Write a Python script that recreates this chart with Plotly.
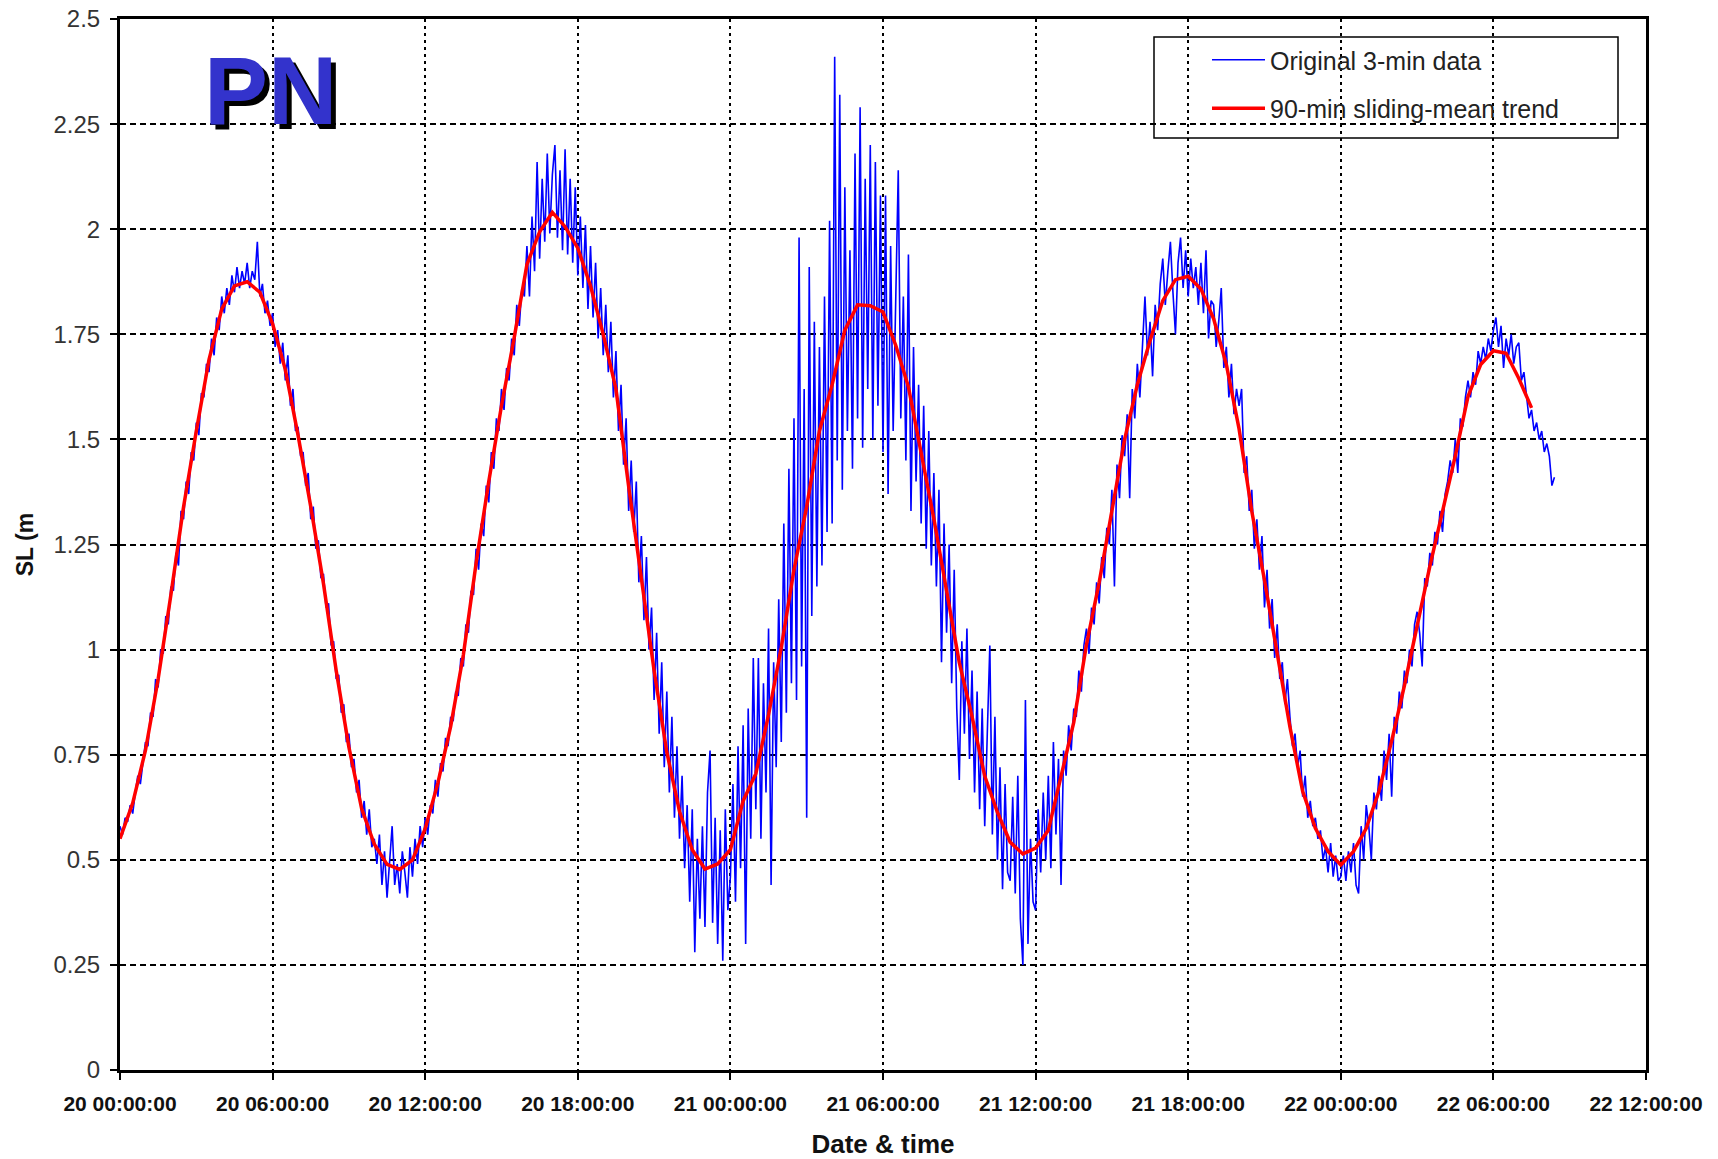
import plotly.graph_objects as go
import pandas as pd

# ---------------- data ----------------
START = "2000-01-20 00:00:00"

# 90-min sliding-mean trend, one value every 30 min from 20 00:00
trend_sl = [
    0.55, 0.635, 0.76, 0.93, 1.13, 1.34, 1.52, 1.69, 1.81, 1.865,
    1.875, 1.85, 1.775, 1.666, 1.51, 1.34, 1.157, 0.95, 0.768, 0.622,
    0.537, 0.489, 0.477, 0.50, 0.574, 0.683, 0.817, 0.987, 1.205, 1.40,
    1.58, 1.742, 1.916, 1.994, 2.04, 2.006, 1.955, 1.865, 1.75, 1.62,
    1.388, 1.169, 0.95, 0.756, 0.615, 0.524, 0.478, 0.49, 0.524, 0.64,
    0.705, 0.845, 1.005, 1.19, 1.34, 1.52, 1.63, 1.76, 1.82, 1.818,
    1.803, 1.724, 1.625, 1.468, 1.311, 1.14, 0.969, 0.841, 0.699, 0.613,
    0.542, 0.514, 0.528, 0.57, 0.699, 0.827, 1.012, 1.16, 1.33, 1.50,
    1.63, 1.735, 1.83, 1.88, 1.888, 1.858, 1.787, 1.678, 1.525, 1.329,
    1.165, 0.99, 0.816, 0.663, 0.575, 0.52, 0.488, 0.52, 0.575, 0.663,
    0.783, 0.914, 1.056, 1.198, 1.329, 1.46, 1.602, 1.678, 1.711, 1.705,
    1.645, 1.575,
]

# original data, sampled every 6 min from 20 00:00 (one row per hour)
blue_sl = [
    0.58, 0.56, 0.60, 0.59, 0.63, 0.61, 0.66, 0.70, 0.68, 0.73,
    0.78, 0.77, 0.85, 0.84, 0.93, 0.91, 1.00, 0.99, 1.08, 1.06,
    1.15, 1.14, 1.23, 1.20, 1.33, 1.31, 1.40, 1.37, 1.47, 1.45,
    1.54, 1.51, 1.61, 1.60, 1.68, 1.66, 1.74, 1.70, 1.79, 1.76,
    1.84, 1.80, 1.86, 1.82, 1.89, 1.85, 1.91, 1.86, 1.90, 1.87,
    1.92, 1.86, 1.90, 1.88, 1.97, 1.84, 1.87, 1.80, 1.83, 1.77,
    1.80, 1.72, 1.76, 1.68, 1.73, 1.64, 1.70, 1.58, 1.62, 1.52,
    1.53, 1.46, 1.47, 1.39, 1.42, 1.31, 1.34, 1.24, 1.26, 1.17,
    1.18, 1.10, 1.11, 1.01, 1.02, 0.93, 0.94, 0.85, 0.87, 0.78,
    0.80, 0.72, 0.74, 0.66, 0.69, 0.60, 0.64, 0.56, 0.62, 0.53,
    0.55, 0.49, 0.56, 0.44, 0.52, 0.41, 0.50, 0.58, 0.44, 0.49,
    0.42, 0.52, 0.47, 0.41, 0.53, 0.46, 0.55, 0.49, 0.58, 0.53,
    0.60, 0.56, 0.63, 0.61, 0.69, 0.65, 0.73, 0.71, 0.79, 0.77,
    0.84, 0.83, 0.90, 0.89, 0.98, 0.96, 1.06, 1.04, 1.14, 1.13,
    1.24, 1.19, 1.30, 1.27, 1.39, 1.35, 1.47, 1.43, 1.55, 1.52,
    1.62, 1.57, 1.67, 1.64, 1.74, 1.70, 1.82, 1.77, 1.86, 1.84,
    1.96, 1.84, 2.03, 1.90, 2.16, 1.93, 2.12, 1.97, 2.18, 1.99,
    2.13, 2.20, 1.98, 2.14, 1.95, 2.19, 1.94, 2.12, 1.92, 2.10,
    1.89, 2.03, 1.86, 2.01, 1.81, 1.96, 1.79, 1.92, 1.74, 1.86,
    1.70, 1.82, 1.66, 1.78, 1.60, 1.71, 1.52, 1.63, 1.44, 1.55,
    1.33, 1.45, 1.28, 1.40, 1.16, 1.27, 1.07, 1.22, 1.00, 1.10,
    0.88, 1.04, 0.80, 0.97, 0.72, 0.90, 0.66, 0.84, 0.60, 0.77,
    0.55, 0.70, 0.48, 0.63, 0.40, 0.62, 0.28, 0.55, 0.36, 0.58,
    0.34, 0.66, 0.76, 0.35, 0.60, 0.30, 0.57, 0.26, 0.62, 0.38,
    0.46, 0.68, 0.40, 0.77, 0.48, 0.82, 0.30, 0.86, 0.55, 0.98,
    0.62, 0.98, 0.55, 0.92, 0.66, 1.05, 0.44, 0.97, 0.72, 1.12,
    0.78, 1.30, 0.85, 1.43, 0.92, 1.55, 0.88, 1.98, 0.96, 1.62,
    0.60, 1.91, 1.08, 1.78, 1.15, 1.72, 1.20, 1.84, 1.28, 2.02,
    1.30, 2.41, 1.45, 2.32, 1.38, 2.10, 1.52, 1.95, 1.43, 2.18,
    1.55, 2.29, 1.48, 2.12, 1.62, 2.20, 1.50, 2.16, 1.58, 2.08,
    1.47, 2.08, 1.37, 1.96, 1.52, 1.88, 2.14, 1.55, 1.84, 1.45,
    1.94, 1.33, 1.72, 1.40, 1.63, 1.30, 1.58, 1.24, 1.52, 1.20,
    1.42, 1.15, 1.38, 0.97, 1.30, 1.04, 1.25, 0.92, 1.19, 0.86,
    0.69, 1.02, 0.80, 1.05, 0.74, 0.95, 0.66, 0.90, 0.62, 0.86,
    0.58, 0.80, 1.01, 0.56, 0.84, 0.50, 0.72, 0.43, 0.68, 0.47,
    0.45, 0.65, 0.42, 0.70, 0.36, 0.25, 0.88, 0.30, 0.55, 0.40,
    0.38, 0.62, 0.47, 0.66, 0.50, 0.70, 0.48, 0.78, 0.56, 0.74,
    0.44, 0.76, 0.70, 0.82, 0.76, 0.86, 0.84, 0.95, 0.90, 1.01,
    1.05, 0.99, 1.10, 1.06, 1.16, 1.11, 1.22, 1.17, 1.29, 1.25,
    1.38, 1.15, 1.44, 1.36, 1.51, 1.46, 1.56, 1.36, 1.62, 1.55,
    1.68, 1.60, 1.73, 1.84, 1.70, 1.78, 1.65, 1.82, 1.76, 1.87,
    1.93, 1.82, 1.90, 1.97, 1.85, 1.75, 1.92, 1.98, 1.86, 1.95,
    1.84, 1.93, 1.86, 1.91, 1.82, 1.92, 1.80, 1.95, 1.74, 1.83,
    1.82, 1.72, 1.78, 1.86, 1.67, 1.72, 1.60, 1.68, 1.56, 1.62,
    1.58, 1.62, 1.42, 1.46, 1.33, 1.38, 1.24, 1.31, 1.19, 1.27,
    1.10, 1.19, 1.05, 1.12, 0.98, 1.06, 0.93, 0.97, 0.87, 0.93,
    0.84, 0.77, 0.80, 0.72, 0.76, 0.65, 0.70, 0.60, 0.64, 0.58,
    0.60, 0.55, 0.57, 0.50, 0.53, 0.47, 0.54, 0.46, 0.51, 0.45,
    0.46, 0.51, 0.45, 0.52, 0.47, 0.54, 0.44, 0.42, 0.58, 0.50,
    0.63, 0.58, 0.50, 0.66, 0.62, 0.70, 0.64, 0.76, 0.69, 0.80,
    0.65, 0.84, 0.80, 0.90, 0.86, 0.95, 0.92, 1.00, 0.96, 1.06,
    1.09, 1.04, 0.96, 1.17, 1.15, 1.23, 1.20, 1.28, 1.25, 1.33,
    1.28, 1.37, 1.40, 1.45, 1.42, 1.50, 1.42, 1.55, 1.53, 1.60,
    1.64, 1.60, 1.66, 1.63, 1.71, 1.68, 1.72, 1.69, 1.74, 1.71,
    1.76, 1.79, 1.72, 1.77, 1.67, 1.74, 1.70, 1.75, 1.68, 1.72,
    1.73, 1.64, 1.66, 1.60, 1.55, 1.57, 1.52, 1.54, 1.50, 1.52,
    1.47, 1.49, 1.46, 1.39, 1.41,
]

x_tick_labels = ["20 00:00:00", "20 06:00:00", "20 12:00:00", "20 18:00:00",
                 "21 00:00:00", "21 06:00:00", "21 12:00:00", "21 18:00:00",
                 "22 00:00:00", "22 06:00:00", "22 12:00:00"]
y_tick_vals = [0, 0.25, 0.5, 0.75, 1, 1.25, 1.5, 1.75, 2, 2.25, 2.5]
y_tick_labels = ["0", "0.25", "0.5", "0.75", "1", "1.25", "1.5", "1.75", "2", "2.25", "2.5"]

series_names = ["Original 3-min data", "90-min sliding-mean trend"]

# ---------------- figure ----------------
blue_t = pd.date_range(START, periods=len(blue_sl), freq="6min")
red_t = pd.date_range(START, periods=len(trend_sl), freq="30min")
x_tick_vals = pd.date_range(START, periods=len(x_tick_labels), freq="6h")

W, H = 1718, 1159
ML, MR, MT, MB = 120, 72, 19, 89
PW, PH = W - ML - MR, H - MT - MB

def px_x(px):
    return (px - ML) / PW

def px_y(py):
    return 1 - (py - MT) / PH

fig = go.Figure()
fig.add_trace(go.Scatter(x=blue_t, y=blue_sl, mode="lines", name=series_names[0],
                         legendgroup="a", line=dict(color="#0000FF", width=1.6)))
fig.add_trace(go.Scatter(x=red_t, y=trend_sl, mode="lines", name=series_names[1],
                         legendgroup="b", line=dict(color="#FF0000", width=3.5)))

font_main = "Liberation Sans, Arial, sans-serif"

fig.update_layout(
    width=W, height=H,
    margin=dict(l=ML, r=MR, t=MT, b=MB, pad=0),
    paper_bgcolor="white", plot_bgcolor="white",
    font=dict(family=font_main, color="#222"),
    showlegend=True,
    legend=dict(
        x=px_x(1207), y=px_y(37), xanchor="left", yanchor="top",
        bgcolor="rgba(0,0,0,0)", borderwidth=0,
        font=dict(size=25, family=font_main, color="#222"),
        traceorder="grouped", tracegroupgap=13, itemwidth=53,
    ),
    xaxis=dict(
        automargin=False,
        range=[x_tick_vals[0], x_tick_vals[-1]],
        tickvals=x_tick_vals, ticktext=x_tick_labels,
        tickfont=dict(size=21, family=font_main, color="#111", weight="bold"),
        ticks="outside", ticklen=7, tickwidth=1.5, tickcolor="black",
        ticklabelstandoff=6,
        showline=True, linewidth=3, linecolor="black", mirror=True,
        showgrid=True, gridcolor="black", gridwidth=1.5, griddash="3px,4px",
        zeroline=False,
        title=dict(text="<b>Date & time</b>", font=dict(size=26, family=font_main, color="#111"),
                   standoff=27),
    ),
    yaxis=dict(
        automargin=False,
        range=[0, 2.5],
        tickvals=y_tick_vals, ticktext=y_tick_labels,
        tickfont=dict(size=24, family=font_main, color="#333"),
        ticks="outside", ticklen=7, tickwidth=1.5, tickcolor="black",
        ticklabelstandoff=5,
        showline=True, linewidth=3, linecolor="black", mirror=True,
        showgrid=True, gridcolor="black", gridwidth=1.5, griddash="6px,4px",
        zeroline=False,
        title=dict(text="<b>SL (m</b>", font=dict(size=23, family=font_main, color="#111"),
                   standoff=14),
    ),
)

# legend frame (covers the grid, stays under the data)
fig.add_shape(type="rect", xref="paper", yref="paper",
              x0=px_x(1154), x1=px_x(1618), y0=px_y(138), y1=px_y(37),
              line=dict(color="black", width=1.5), fillcolor="white", layer="between")

# "PN" label with a black drop shadow
fig.add_annotation(text="<b>PN</b>", xref="paper", yref="paper",
                   x=px_x(270), y=px_y(90),
                   showarrow=False, xanchor="center", yanchor="middle",
                   font=dict(size=96, family=font_main, color="#3333CC",
                             shadow="5px 5px 0px black"))

fig.write_html("out.html")
